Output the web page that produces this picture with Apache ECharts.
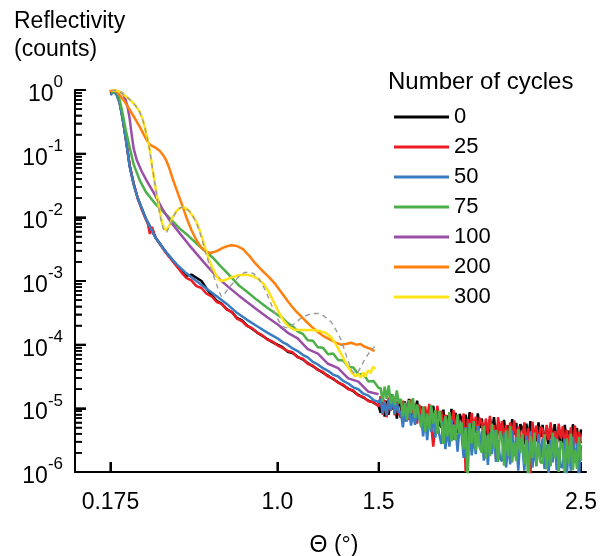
<!DOCTYPE html>
<html>
<head>
<meta charset="utf-8">
<script src="https://cdn.jsdelivr.net/npm/echarts@6/dist/echarts.min.js"></script>
<style>html,body{margin:0;padding:0;background:#fff}#c{width:600px;height:556px}</style>
</head>
<body>
<div id="c"></div>
<script>
// ---- axis ticks / labels ----
const xTicks = [0.175, 1.0, 1.5, 2.5];
const xTickLabels = ['0.175', '1.0', '1.5', '2.5'];
const yTicks = [1e-6, 1e-5, 1e-4, 1e-3, 1e-2, 1e-1, 1];
const yTickExponents = ['-6', '-5', '-4', '-3', '-2', '-1', '0'];
const yMinorTicks = [2e-6,3e-6,4e-6,5e-6,6e-6,7e-6,8e-6,9e-6,2e-5,3e-5,4e-5,5e-5,6e-5,7e-5,8e-5,9e-5,2e-4,3e-4,4e-4,5e-4,6e-4,7e-4,8e-4,9e-4,2e-3,3e-3,4e-3,5e-3,6e-3,7e-3,8e-3,9e-3,2e-2,3e-2,4e-2,5e-2,6e-2,7e-2,8e-2,9e-2,0.2,0.3,0.4,0.5,0.6,0.7,0.8,0.9];

const cycles = ['0', '25', '50', '75', '100', '200', '300'];

// ---- shared angle grids for the noisy parts (degrees) ----
const thetaLow = [0.525,0.55,0.575,0.6,0.625,0.65,0.675,0.7,0.725,0.75,0.775,0.8,0.825,0.85,0.875,0.9,0.925,0.95,0.975,1.0];
const thetaMid = [1.025,1.05,1.075,1.1,1.125,1.15,1.175,1.2,1.225,1.25,1.275,1.3,1.325,1.35,1.375,1.4,1.425,1.45,1.475,1.5];
const thetaTail = [1.51,1.52,1.53,1.54,1.55,1.56,1.57,1.58,1.59,1.6,
1.61,1.62,1.63,1.64,1.65,1.66,1.67,1.68,1.69,1.7,
1.71,1.72,1.73,1.74,1.75,1.76,1.77,1.78,1.79,1.8,
1.81,1.82,1.83,1.84,1.85,1.86,1.87,1.88,1.89,1.9,
1.91,1.92,1.93,1.94,1.95,1.96,1.97,1.98,1.99,2.0,
2.01,2.02,2.03,2.04,2.05,2.06,2.07,2.08,2.09,2.1,
2.11,2.12,2.13,2.14,2.15,2.16,2.17,2.18,2.19,2.2,
2.21,2.22,2.23,2.24,2.25,2.26,2.27,2.28,2.29,2.3,
2.31,2.32,2.33,2.34,2.35,2.36,2.37,2.38,2.39,2.4,
2.41,2.42,2.43,2.44,2.45,2.46,2.47,2.48,2.49,2.5];

// ---- reflectivity, stored as log10(counts) ----
// 0 cycles
const theta0 = [0.175,0.19,0.205,0.22,0.235,0.25,0.27,0.29,0.31,0.35,0.4,0.45,0.5];
const log0 = [-0.06,-0.02,-0.06,-0.19,-0.44,-0.74,-1.19,-1.48,-1.7,-2.02,-2.33,-2.55,-2.74];
const log0Low = [-2.84,-2.92,-2.9,-2.95,-3.0,-3.12,-3.22,-3.31,-3.36,-3.44,-3.49,-3.58,-3.62,-3.7,-3.75,-3.81,-3.86,-3.91,-3.96,-4.0];
const log0Mid = [-4.04,-4.11,-4.13,-4.19,-4.23,-4.29,-4.34,-4.39,-4.44,-4.49,-4.54,-4.59,-4.64,-4.69,-4.73,-4.79,-4.83,-4.88,-4.91,-4.96];
const log0Tail = [-5.07,-4.79,-5.13,-4.88,-5.1,-4.78,-5.02,-4.84,-5.16,-4.86,
-4.97,-5.22,-4.89,-5.13,-4.85,-5.19,-5.0,-5.18,-4.88,-5.1,
-4.97,-5.26,-5.03,-5.3,-4.99,-5.2,-4.96,-5.27,-5.06,-5.24,
-5.3,-5.02,-5.36,-5.11,-5.33,-5.01,-5.25,-5.07,-5.39,-5.09,
-5.17,-5.43,-5.1,-5.34,-5.06,-5.4,-5.2,-5.38,-5.08,-5.31,
-5.16,-5.45,-5.22,-5.49,-5.17,-5.39,-5.14,-5.46,-5.25,-5.43,
-5.46,-5.18,-5.52,-5.27,-5.49,-5.17,-5.41,-5.23,-5.55,-5.25,
-5.31,-5.57,-5.24,-5.48,-5.2,-5.54,-5.34,-5.52,-5.22,-5.45,
-5.26,-5.55,-5.32,-5.59,-5.28,-5.49,-5.25,-5.56,-5.35,-5.53,
-5.54,-5.26,-5.6,-5.35,-5.57,-5.25,-5.49,-5.31,-5.63,-5.33];
// 25 cycles
const theta25 = [0.175,0.19,0.205,0.22,0.235,0.25,0.27,0.29,0.31,0.33,0.35,0.36,0.37,0.38,0.4,0.45,0.5];
const log25 = [-0.03,-0.01,-0.05,-0.18,-0.43,-0.73,-1.18,-1.47,-1.7,-1.88,-2.03,-2.1,-2.26,-2.15,-2.33,-2.56,-2.76];
const log25Low = [-2.86,-2.95,-2.99,-3.08,-3.11,-3.2,-3.24,-3.33,-3.36,-3.45,-3.49,-3.59,-3.63,-3.71,-3.74,-3.81,-3.85,-3.92,-3.95,-4.01];
const log25Mid = [-4.05,-4.1,-4.12,-4.2,-4.22,-4.3,-4.33,-4.4,-4.43,-4.5,-4.53,-4.6,-4.63,-4.7,-4.72,-4.8,-4.82,-4.89,-4.9,-4.97];
const log25Tail = [-4.81,-5.1,-4.87,-5.14,-4.83,-5.04,-4.8,-5.11,-4.9,-5.08,
-5.15,-4.88,-5.21,-4.97,-5.18,-4.86,-5.1,-4.92,-5.24,-4.94,
-5.05,-5.3,-4.97,-5.21,-4.93,-5.27,-5.6,-5.26,-4.96,-5.18,
-5.04,-5.33,-5.1,-5.37,-5.06,-5.27,-5.03,-5.34,-5.13,-5.31,
-5.36,-5.08,-6.0,-5.17,-5.39,-5.07,-5.31,-5.13,-5.45,-5.15,
-5.23,-5.49,-5.16,-5.4,-5.12,-5.46,-5.26,-5.8,-5.14,-5.37,
-5.2,-5.49,-5.26,-5.53,-5.22,-5.43,-5.19,-5.5,-5.29,-5.47,
-5.5,-5.22,-5.56,-5.31,-6.05,-5.21,-5.45,-5.27,-5.59,-5.29,
-5.33,-5.59,-5.26,-5.5,-5.22,-5.56,-5.36,-5.54,-5.24,-5.47,
-5.28,-5.57,-5.34,-5.61,-5.3,-5.85,-5.27,-5.58,-5.37,-5.55];
// 50 cycles
const theta50 = [0.175,0.19,0.205,0.22,0.235,0.25,0.27,0.29,0.31,0.35,0.4,0.45,0.5,0.55,0.6,0.65,0.7,0.75,0.8,0.85,0.9,0.95,1.0];
const log50 = [-0.08,-0.03,-0.07,-0.2,-0.45,-0.75,-1.2,-1.48,-1.7,-2.02,-2.33,-2.55,-2.73,-2.88,-3.0,-3.12,-3.24,-3.36,-3.5,-3.61,-3.71,-3.81,-3.9];
const log50Mid = [-3.96,-4.0,-4.06,-4.1,-4.16,-4.2,-4.27,-4.31,-4.37,-4.41,-4.47,-4.5,-4.57,-4.61,-4.67,-4.7,-4.77,-4.8,-4.87,-4.9];
const log50Tail = [-4.85,-5.08,-4.9,-5.11,-4.86,-5.03,-4.84,-5.09,-4.92,-5.07,
-5.05,-5.3,-4.97,-5.21,-4.93,-5.27,-5.08,-5.26,-4.96,-5.18,
-5.1,-5.44,-5.17,-5.5,-5.12,-5.37,-5.08,-5.46,-5.21,-5.42,
-5.56,-5.2,-5.64,-5.32,-5.6,-5.18,-5.5,-5.26,-5.68,-5.28,
-5.41,-5.78,-5.3,-5.65,-5.23,-5.74,-5.45,-5.72,-5.28,-5.61,
-5.36,-5.82,-5.46,-5.89,-5.38,-5.72,-5.34,-5.84,-5.5,-5.79,
-5.83,-5.38,-5.93,-5.53,-5.88,-5.35,-5.75,-5.45,-5.98,-5.48,
-5.56,-5.98,-5.43,-5.83,-5.36,-5.93,-5.61,-5.91,-5.41,-5.78,
-5.47,-5.95,-5.57,-6.02,-5.5,-5.85,-5.45,-5.97,-5.62,-5.92,
-5.93,-5.48,-6.03,-5.63,-5.98,-5.45,-5.85,-5.55,-6.08,-5.58];
// 75 cycles
const theta75 = [0.18,0.2,0.215,0.235,0.25,0.27,0.29,0.32,0.35,0.37,0.4,0.43,0.47,0.515,0.56,0.6,0.64,0.68,0.72,0.76,0.81,0.85,0.9,0.95,1.0];
const log75 = [-0.05,-0.01,-0.08,-0.36,-0.62,-0.9,-1.17,-1.42,-1.6,-1.68,-1.8,-1.89,-2.02,-2.17,-2.29,-2.41,-2.52,-2.63,-2.77,-2.9,-3.07,-3.17,-3.3,-3.42,-3.53];
const log75Mid = [-3.58,-3.66,-3.71,-3.79,-3.83,-3.93,-3.94,-4.04,-4.05,-4.15,-4.14,-4.24,-4.25,-4.35,-4.36,-4.47,-4.46,-4.58,-4.57,-4.68];
const log75Tail = [-4.68,-4.9,-4.66,-4.85,-4.64,-4.93,-4.78,-4.95,-4.72,-4.92,
-4.85,-5.13,-4.91,-5.18,-4.87,-5.08,-4.84,-5.15,-4.94,-5.12,
-5.3,-4.97,-5.37,-5.08,-5.33,-4.95,-5.24,-5.03,-5.4,-5.04,
-5.22,-5.56,-5.12,-5.44,-5.06,-5.52,-5.26,-5.5,-5.1,-5.4,
-5.22,-5.64,-5.31,-6.1,-5.24,-5.55,-5.2,-5.66,-5.35,-5.62,
-5.7,-5.27,-5.79,-5.41,-5.75,-5.24,-5.63,-5.34,-5.84,-5.36,
-5.48,-5.9,-5.35,-5.75,-5.28,-5.85,-5.53,-5.83,-5.33,-5.7,
-5.4,-5.88,-5.5,-6.2,-5.43,-5.78,-5.38,-5.9,-5.55,-5.85,
-5.86,-5.41,-5.96,-5.56,-5.91,-5.38,-5.78,-5.48,-6.0,-5.51,
-5.6,-6.02,-5.47,-5.87,-5.4,-5.97,-5.65,-5.95,-5.45,-5.82];
// 100 cycles
const theta100 = [0.186,0.21,0.235,0.25,0.26,0.27,0.28,0.29,0.305,0.33,0.353,0.39,0.43,0.47,0.515,0.56,0.6,0.64,0.68,0.72,0.76,0.81,0.85,0.9,0.95,1.0,1.05,1.1,1.15,1.2,1.25,1.3,1.35,1.4,1.45,1.5];
const log100 = [-0.01,-0.02,-0.05,-0.15,-0.27,-0.45,-0.7,-0.92,-1.1,-1.28,-1.42,-1.62,-1.86,-2.06,-2.24,-2.42,-2.57,-2.72,-2.86,-2.99,-3.1,-3.23,-3.33,-3.45,-3.57,-3.68,-3.81,-3.9,-4.07,-4.14,-4.3,-4.37,-4.53,-4.58,-4.74,-4.78];
// 200 cycles
const theta200 = [0.17,0.185,0.196,0.21,0.22,0.245,0.27,0.295,0.32,0.34,0.353,0.365,0.377,0.395,0.417,0.435,0.45,0.465,0.48,0.5,0.515,0.535,0.55,0.575,0.6,0.625,0.647,0.67,0.7,0.73,0.755,0.775,0.8,0.83,0.86,0.89,0.92,0.956,0.99,1.02,1.054,1.09,1.137,1.17,1.2,1.23,1.265,1.29,1.314,1.34,1.363,1.39,1.41,1.43,1.455,1.48];
const log200 = [-0.02,-0.01,-0.01,-0.04,-0.08,-0.18,-0.31,-0.44,-0.58,-0.7,-0.78,-0.84,-0.87,-0.9,-0.95,-1.02,-1.1,-1.22,-1.37,-1.55,-1.68,-1.86,-2.0,-2.2,-2.36,-2.48,-2.54,-2.56,-2.53,-2.48,-2.45,-2.44,-2.45,-2.5,-2.6,-2.72,-2.82,-2.93,-3.05,-3.18,-3.33,-3.47,-3.62,-3.72,-3.8,-3.87,-3.93,-3.97,-4.0,-3.99,-3.97,-4.0,-3.99,-4.03,-4.06,-4.1];
// 300 cycles
const theta300 = [0.18,0.2,0.215,0.235,0.26,0.284,0.3,0.319,0.332,0.343,0.355,0.368,0.382,0.395,0.407,0.418,0.43,0.441,0.452,0.466,0.483,0.5,0.515,0.529,0.545,0.564,0.58,0.598,0.612,0.627,0.645,0.662,0.68,0.696,0.711,0.725,0.745,0.775,0.81,0.843,0.875,0.907,0.93,0.956,0.98,1.005,1.03,1.054,1.08,1.11,1.137,1.17,1.2,1.235,1.265,1.29,1.314,1.34,1.363,1.385,1.4,1.412,1.425,1.435,1.448,1.46,1.472,1.485];
const log300 = [-0.01,-0.005,-0.02,-0.06,-0.12,-0.19,-0.25,-0.34,-0.44,-0.56,-0.72,-0.92,-1.22,-1.48,-1.7,-1.9,-2.08,-2.18,-2.2,-2.13,-2.0,-1.91,-1.86,-1.84,-1.85,-1.9,-1.97,-2.06,-2.17,-2.31,-2.5,-2.67,-2.8,-2.9,-2.98,-3.0,-2.98,-2.94,-2.91,-2.9,-2.92,-2.97,-3.04,-3.16,-3.32,-3.48,-3.62,-3.71,-3.76,-3.77,-3.77,-3.77,-3.78,-3.81,-3.88,-4.0,-4.14,-4.3,-4.42,-4.5,-4.46,-4.52,-4.44,-4.5,-4.4,-4.45,-4.35,-4.38];
// fitted curve for 300 cycles (grey dashed)
const thetaFit = [0.18,0.2,0.215,0.235,0.26,0.284,0.3,0.319,0.332,0.343,0.355,0.368,0.382,0.395,0.407,0.418,0.43,0.441,0.452,0.466,0.483,0.5,0.515,0.529,0.545,0.564,0.58,0.598,0.612,0.627,0.645,0.662,0.68,0.696,0.71,0.722,0.735,0.755,0.784,0.81,0.835,0.858,0.88,0.905,0.93,0.955,0.98,1.005,1.03,1.054,1.08,1.11,1.137,1.17,1.2,1.23,1.265,1.29,1.314,1.335,1.35,1.366,1.382,1.398,1.412,1.43,1.446,1.465,1.48];
const logFit = [-0.01,-0.005,-0.02,-0.06,-0.12,-0.19,-0.25,-0.34,-0.44,-0.56,-0.72,-0.92,-1.22,-1.48,-1.72,-1.94,-2.12,-2.22,-2.24,-2.15,-2.01,-1.91,-1.86,-1.84,-1.85,-1.9,-1.97,-2.07,-2.19,-2.34,-2.55,-2.73,-2.88,-3.02,-3.15,-3.24,-3.22,-3.13,-3.02,-2.93,-2.87,-2.86,-2.88,-2.95,-3.08,-3.25,-3.45,-3.62,-3.72,-3.74,-3.68,-3.6,-3.55,-3.51,-3.51,-3.55,-3.64,-3.77,-3.92,-4.12,-4.26,-4.4,-4.46,-4.43,-4.35,-4.24,-4.16,-4.08,-4.03];

const colors = ['#000000', '#ec1c24', '#3a7cc1', '#4daf4a', '#9a50a8', '#ff7f0e', '#ffe31a'];
const FONT = '"Liberation Sans", Arial, sans-serif';

function pairs(th, lg) { return th.map((t, i) => [t, Math.pow(10, lg[i])]); }

const seriesData = [
  pairs(theta0, log0).concat(pairs(thetaLow, log0Low), pairs(thetaMid, log0Mid), pairs(thetaTail, log0Tail)),
  pairs(theta25, log25).concat(pairs(thetaLow, log25Low), pairs(thetaMid, log25Mid), pairs(thetaTail, log25Tail)),
  pairs(theta50, log50).concat(pairs(thetaMid, log50Mid), pairs(thetaTail, log50Tail)),
  pairs(theta75, log75).concat(pairs(thetaMid, log75Mid), pairs(thetaTail, log75Tail)),
  pairs(theta100, log100),
  pairs(theta200, log200),
  pairs(theta300, log300)
];

const series = cycles.map((name, i) => ({
  name: name, type: 'line', data: seriesData[i], showSymbol: false, symbol: 'none',
  clip: true, animation: false, color: colors[i],
  lineStyle: { width: 2.5, color: colors[i] }, z: 2 + i
}));
series.push({
  name: 'fit', type: 'line', data: pairs(thetaFit, logFit), showSymbol: false, symbol: 'none',
  clip: true, animation: false, color: '#9a9a9a',
  lineStyle: { width: 1.4, color: '#9a9a9a', type: [5, 4] }, z: 10
});

// tick marks placed through the axes' own scales (api.coord), pointing inside the plot
function tickSeries(name, data, dx, dy, width) {
  return {
    name: name, type: 'custom', data: data, clip: false, silent: true, animation: false, z: 1,
    encode: { x: 0, y: 1 },
    renderItem: function (params, api) {
      const p = api.coord([api.value(0), api.value(1)]);
      return { type: 'line', shape: { x1: p[0], y1: p[1], x2: p[0] + dx, y2: p[1] + dy },
        style: { stroke: '#000', lineWidth: width } };
    }
  };
}
series.push(tickSeries('yMajorTicks', yTicks.map(v => [0, v]), 11, 0, 2));
series.push(tickSeries('yMinorTicks', yMinorTicks.map(v => [0, v]), 7, 0, 1.5));
series.push(tickSeries('xMajorTicks', xTicks.map(v => [v, 1e-6]), 0, -10, 2));

const chart = echarts.init(document.getElementById('c'), null, { renderer: 'canvas' });
chart.setOption({
  animation: false,
  backgroundColor: '#fff',
  grid: { left: 75, right: 10, top: 90, bottom: 84, containLabel: false },
  xAxis: {
    type: 'value', min: 0, max: 2.525,
    axisLine: { show: true, onZero: false, lineStyle: { color: '#000', width: 2 } },
    axisTick: { show: true, inside: true, length: 10, customValues: xTicks, lineStyle: { color: '#000', width: 2 } },
    axisLabel: { show: true, customValues: xTicks, margin: 19, color: '#000', fontSize: 23, fontFamily: FONT,
      formatter: function (v) {
        for (let i = 0; i < xTicks.length; i++) { if (Math.abs(v - xTicks[i]) < 1e-9) return xTickLabels[i]; }
        return '';
      } },
    splitLine: { show: false }
  },
  yAxis: {
    type: 'log', logBase: 10, min: 1e-6, max: 1,
    axisLine: { show: true, lineStyle: { color: '#000', width: 2 } },
    axisTick: { show: true, inside: true, length: 11, lineStyle: { color: '#000', width: 2 } },
    minorTick: { show: true, splitNumber: 9, length: 7, lineStyle: { color: '#000', width: 1.5 } },
    axisLabel: { show: true, margin: 12,
      formatter: function (v) {
        for (let i = 0; i < yTicks.length; i++) { if (Math.abs(v / yTicks[i] - 1) < 1e-6) return '{b|10}{s|' + yTickExponents[i] + '}'; }
        return '';
      },
      rich: {
        b: { fontSize: 23, fontFamily: FONT, color: '#000', lineHeight: 32, verticalAlign: 'bottom' },
        s: { fontSize: 17, fontFamily: FONT, color: '#000', lineHeight: 20, verticalAlign: 'top' }
      } },
    splitLine: { show: false },
    minorSplitLine: { show: false }
  },
  legend: {
    data: cycles, orient: 'vertical', left: 389, top: 101,
    icon: 'rect', itemWidth: 55, itemHeight: 3, itemGap: 8,
    textStyle: { fontSize: 22, fontFamily: FONT, color: '#000', lineHeight: 22 },
    selectedMode: false
  },
  graphic: [
    { type: 'text', left: 14, top: 8, style: { text: 'Reflectivity\n(counts)', font: '23px ' + FONT, lineHeight: 28, fill: '#000' } },
    { type: 'text', left: 388, top: 70, style: { text: 'Number of cycles', font: '24px ' + FONT, fill: '#000' } },
    { type: 'text', x: 334, y: 546, style: { text: 'Θ (°)', font: '23px ' + FONT, fill: '#000', align: 'center', verticalAlign: 'middle' } }
  ],
  series: series
});
</script>
</body>
</html>
